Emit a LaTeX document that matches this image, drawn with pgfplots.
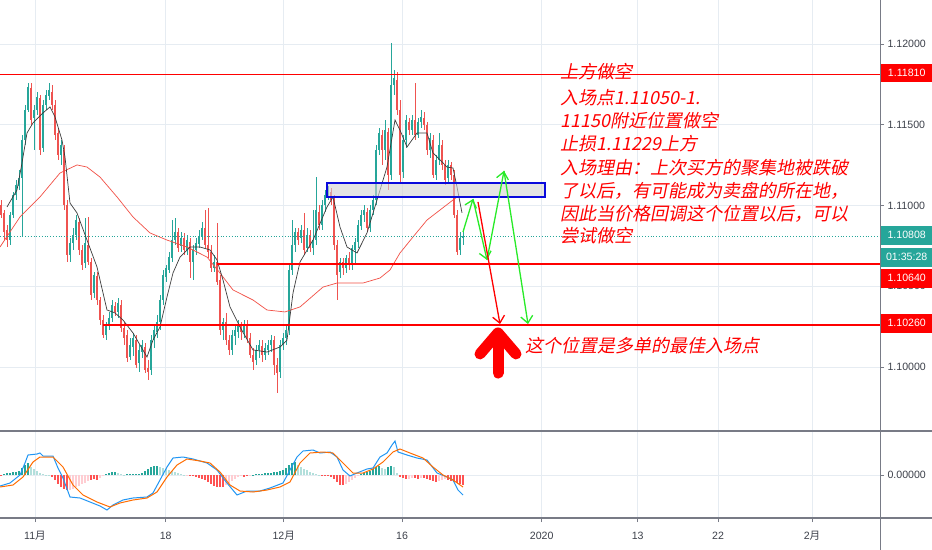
\documentclass[border=0pt]{standalone}
\usepackage{fontspec}
\setmainfont{Liberation Sans}
\newfontfamily\cjk{Noto Sans CJK SC}
\newfontfamily\cjki[FakeSlant=0.2]{Noto Sans CJK SC}
\usepackage{pgfplots}
\usepackage{pgfplotstable}
\pgfplotsset{compat=1.18}
\usetikzlibrary{arrows.meta}

\definecolor{cgreen}{RGB}{38,166,154}
\definecolor{cred}{RGB}{239,83,80}
\definecolor{gridc}{RGB}{230,236,242}
\definecolor{axgray}{RGB}{120,123,134}
\definecolor{txtgray}{RGB}{60,64,74}
\definecolor{hline}{RGB}{255,0,0}
\definecolor{maslow}{RGB}{242,80,70}
\definecolor{mafast}{RGB}{60,60,60}
\definecolor{agreen}{RGB}{40,235,40}
\definecolor{boxblue}{RGB}{10,10,220}
\definecolor{macdblue}{RGB}{33,150,243}
\definecolor{macdorange}{RGB}{255,109,0}
\definecolor{hdg}{RGB}{38,166,154}
\definecolor{hlg}{RGB}{178,223,219}
\definecolor{hred}{RGB}{255,82,82}
\definecolor{hpink}{RGB}{255,205,210}

\newcommand\lab{\fontsize{10.6bp}{12bp}\selectfont}
\newcommand\ann{\fontsize{18bp}{22bp}\selectfont\cjki}

\pgfplotsset{
  candle/.style={only marks, mark=*, mark size=0pt,
    mark options={draw=none, fill=none}, forget plot,
    error bars/.cd, y dir=both, y explicit, error mark=none,
    error bar style={#1}},
}

% up candles: x open high low close
\pgfplotstableread{
x o h l c
10 1.10786 1.10960 1.10755 1.10941
13 1.10941 1.11084 1.10923 1.11065
16 1.11065 1.11158 1.11034 1.11127
19 1.11121 1.11220 1.11096 1.11170
22 1.11170 1.11436 1.10805 1.11405
25 1.11405 1.11622 1.11374 1.11591
28 1.11591 1.11758 1.11579 1.11733
34 1.11542 1.11622 1.11344 1.11591
37 1.11591 1.11703 1.11560 1.11672
43 1.11356 1.11653 1.11331 1.11622
46 1.11622 1.11715 1.11591 1.11684
49 1.11678 1.11758 1.11653 1.11715
61 1.11313 1.11405 1.11251 1.11374
70 1.10694 1.10799 1.10650 1.10768
73 1.10768 1.10861 1.10725 1.10817
76 1.10817 1.10941 1.10786 1.10910
85 1.10644 1.10923 1.10613 1.10768
94 1.10458 1.10588 1.10427 1.10570
106 1.10198 1.10279 1.10167 1.10260
109 1.10254 1.10341 1.10229 1.10304
112 1.10304 1.10415 1.10279 1.10384
118 1.10341 1.10427 1.10304 1.10396
130 1.10062 1.10180 1.10044 1.10136
133 1.10124 1.10211 1.10068 1.10180
139 1.10025 1.10136 1.09969 1.10106
142 1.10093 1.10167 1.10056 1.10136
151 1.09982 1.10198 1.09951 1.10167
154 1.10167 1.10260 1.10118 1.10229
157 1.10217 1.10322 1.10180 1.10279
160 1.10279 1.10446 1.10229 1.10415
163 1.10415 1.10601 1.10384 1.10570
166 1.10557 1.10632 1.10526 1.10613
169 1.10601 1.10712 1.10582 1.10681
172 1.10675 1.10910 1.10650 1.10786
175 1.10786 1.10923 1.10755 1.10836
181 1.10749 1.10836 1.10712 1.10799
187 1.10725 1.10817 1.10694 1.10786
193 1.10650 1.10755 1.10539 1.10725
196 1.10725 1.10799 1.10694 1.10768
199 1.10762 1.10848 1.10737 1.10811
202 1.10811 1.10898 1.10786 1.10861
214 1.10613 1.10694 1.10588 1.10650
223 1.10229 1.10304 1.10167 1.10279
232 1.10106 1.10229 1.10075 1.10198
235 1.10192 1.10260 1.10136 1.10229
238 1.10217 1.10291 1.10180 1.10260
244 1.10217 1.10291 1.10180 1.10260
256 1.10044 1.10136 1.10013 1.10106
259 1.10106 1.10167 1.10056 1.10136
265 1.10075 1.10149 1.10044 1.10118
268 1.10106 1.10167 1.10075 1.10136
271 1.10136 1.10198 1.10093 1.10167
280 1.09969 1.10167 1.09932 1.10136
283 1.10136 1.10211 1.10106 1.10180
286 1.10180 1.10260 1.10136 1.10229
289 1.10229 1.10632 1.10198 1.10601
292 1.10601 1.10910 1.10570 1.10755
295 1.10755 1.10861 1.10712 1.10836
301 1.10799 1.10879 1.10768 1.10848
307 1.10737 1.10861 1.10712 1.10817
313 1.10737 1.10972 1.10694 1.10786
316 1.10786 1.11176 1.10755 1.10972
322 1.10879 1.11034 1.10848 1.11003
325 1.11003 1.11096 1.10960 1.11065
328 1.11059 1.11121 1.11034 1.11084
340 1.10588 1.10675 1.10551 1.10650
346 1.10613 1.10694 1.10582 1.10675
352 1.10632 1.10755 1.10601 1.10737
355 1.10725 1.10799 1.10632 1.10774
358 1.10774 1.10910 1.10737 1.10879
361 1.10873 1.10972 1.10848 1.10941
364 1.10941 1.11003 1.10898 1.10972
370 1.10861 1.11003 1.10836 1.10972
373 1.10972 1.11065 1.10941 1.11034
376 1.11034 1.11374 1.11003 1.11344
379 1.11344 1.11480 1.11313 1.11449
385 1.11344 1.11529 1.11282 1.11467
391 1.11189 1.12006 1.11158 1.11746
394 1.11746 1.11839 1.11684 1.11789
403 1.11207 1.11436 1.11170 1.11405
406 1.11405 1.11560 1.11356 1.11529
412 1.11467 1.11560 1.11436 1.11529
418 1.11436 1.11542 1.11418 1.11517
421 1.11517 1.11591 1.11480 1.11548
430 1.11344 1.11449 1.11294 1.11418
436 1.11189 1.11313 1.11158 1.11282
439 1.11282 1.11449 1.11251 1.11374
448 1.11170 1.11282 1.11145 1.11251
460 1.10725 1.10836 1.10694 1.10799
463 1.10799 1.10848 1.10755 1.10811
}\upc

% down candles
\pgfplotstableread{
x o h l c
1 1.11003 1.11034 1.10923 1.10941
4 1.10954 1.10972 1.10786 1.10836
7 1.10848 1.10879 1.10743 1.10786
31 1.11727 1.11758 1.11498 1.11529
40 1.11665 1.11684 1.11313 1.11344
52 1.11703 1.11746 1.11591 1.11622
55 1.11622 1.11653 1.11405 1.11436
58 1.11449 1.11480 1.11282 1.11313
64 1.11344 1.11374 1.10972 1.11003
67 1.11003 1.11034 1.10650 1.10694
79 1.10898 1.10923 1.10694 1.10725
82 1.10725 1.10755 1.10601 1.10632
88 1.10755 1.10929 1.10632 1.10650
91 1.10650 1.10675 1.10415 1.10446
97 1.10564 1.10588 1.10384 1.10415
100 1.10415 1.10434 1.10260 1.10291
103 1.10291 1.10322 1.10180 1.10198
115 1.10378 1.10403 1.10316 1.10341
121 1.10384 1.10415 1.10217 1.10242
124 1.10242 1.10279 1.10136 1.10180
127 1.10198 1.10229 1.10031 1.10056
136 1.10167 1.10198 1.09994 1.10013
145 1.10124 1.10149 1.09963 1.09982
148 1.09994 1.10044 1.09920 1.09969
178 1.10836 1.10861 1.10712 1.10737
184 1.10799 1.10830 1.10694 1.10725
190 1.10774 1.10799 1.10551 1.10650
205 1.10861 1.10972 1.10737 1.10755
208 1.10755 1.10985 1.10675 1.10712
211 1.10712 1.10755 1.10588 1.10613
217 1.10650 1.10892 1.10508 1.10526
220 1.10539 1.10570 1.10198 1.10229
226 1.10279 1.10335 1.10136 1.10167
229 1.10167 1.10198 1.10075 1.10106
241 1.10254 1.10279 1.10167 1.10217
247 1.10260 1.10291 1.10149 1.10180
250 1.10180 1.10211 1.10056 1.10075
253 1.10075 1.10118 1.09982 1.10031
262 1.10130 1.10167 1.10031 1.10075
274 1.10167 1.10192 1.09951 1.10013
277 1.10013 1.10056 1.09839 1.09963
298 1.10836 1.10861 1.10755 1.10786
304 1.10848 1.10954 1.10694 1.10725
310 1.10817 1.10848 1.10712 1.10737
319 1.10960 1.11003 1.10848 1.10879
331 1.11084 1.11108 1.11003 1.11034
334 1.11034 1.11065 1.10725 1.10755
337 1.10755 1.10786 1.10415 1.10570
343 1.10650 1.10675 1.10570 1.10613
349 1.10675 1.10712 1.10601 1.10632
367 1.10960 1.10985 1.10836 1.10861
382 1.11436 1.11467 1.11251 1.11344
388 1.11455 1.11480 1.11096 1.11189
397 1.11777 1.11826 1.11560 1.11591
400 1.11591 1.11653 1.11145 1.11189
409 1.11517 1.11542 1.11436 1.11467
415 1.11529 1.11758 1.11405 1.11436
424 1.11542 1.11579 1.11467 1.11498
427 1.11498 1.11517 1.11313 1.11344
433 1.11405 1.11436 1.11170 1.11189
442 1.11374 1.11405 1.11220 1.11251
445 1.11251 1.11282 1.11127 1.11158
451 1.11251 1.11269 1.11158 1.11189
454 1.11189 1.11220 1.10923 1.10941
457 1.10941 1.10972 1.10694 1.10712
}\dnc

\begin{document}
\begin{tikzpicture}
\useasboundingbox (0,0) rectangle (932bp,-550bp);
\fill[white] (0,0) rectangle (932bp,-550bp);

% ---------------- price panel ----------------
\begin{axis}[
  at={(0bp,0bp)}, anchor=north west,
  scale only axis, width=880bp, height=431bp,
  xmin=0, xmax=880, ymin=1.09604, ymax=1.12272,
  clip=false,
  axis line style={draw=none},
  xtick={35,165.7,283.7,402,541.7,637.7,718,812},
  xticklabels={}, xtick style={/pgfplots/major tick length=0pt},
  ytick={1.100,1.105,1.110,1.115,1.120},
  ytick pos=right, yticklabel pos=right,
  tick align=outside, major tick length=4bp,
  ytick style={axgray, line width=0.8bp},
  scaled y ticks=false,
  /pgf/number format/assume math mode=true,
  yticklabel={\pgfmathprintnumber[fixed,fixed zerofill,precision=5]{\tick}},
  yticklabel style={font=\lab, text=txtgray},
  grid=major, major grid style={gridc, line width=0.8bp},
]
% wicks
\addplot[candle={cgreen, line width=0.8bp}]
  table[x=x, y expr={(\thisrow{h}+\thisrow{l})/2}, y error expr={(\thisrow{h}-\thisrow{l})/2}] {\upc};
\addplot[candle={cred, line width=0.8bp}]
  table[x=x, y expr={(\thisrow{h}+\thisrow{l})/2}, y error expr={(\thisrow{h}-\thisrow{l})/2}] {\dnc};
% bodies
\addplot[candle={cgreen, line width=2.2bp}]
  table[x=x, y expr={(\thisrow{o}+\thisrow{c})/2}, y error expr={abs(\thisrow{c}-\thisrow{o})/2}] {\upc};
\addplot[candle={cred, line width=2.2bp}]
  table[x=x, y expr={(\thisrow{o}+\thisrow{c})/2}, y error expr={abs(\thisrow{c}-\thisrow{o})/2}] {\dnc};

% slow moving average
\addplot[maslow, line width=0.7bp, forget plot] coordinates {
(0,1.10743) (20,1.10929) (40,1.11053) (60,1.11201) (77,1.11251) (87,1.11238)
(100,1.11176) (117,1.11053) (133,1.10929) (150,1.10830) (167,1.10786) (187,1.10743)
(207,1.10681) (220,1.10582) (233,1.10477) (253,1.10415) (267,1.10353) (285,1.10341)
(300,1.10372) (323,1.10495) (337,1.10520) (363,1.10520) (380,1.10551) (390,1.10601)
(400,1.10706) (413,1.10805) (427,1.10910) (440,1.10972) (453,1.11034) (457,1.11053)};
% fast moving average
\addplot[mafast, line width=0.7bp, forget plot] coordinates {
(7,1.10991) (17,1.11096) (22,1.11263) (27,1.11449) (33,1.11511) (43,1.11573)
(50,1.11610) (55,1.11548) (62,1.11405) (65,1.11300) (70,1.11015) (77,1.10954)
(87,1.10786) (97,1.10619) (107,1.10353) (115,1.10335) (123,1.10291) (133,1.10211)
(147,1.10062) (153,1.10167) (160,1.10248) (167,1.10434) (173,1.10582) (180,1.10681)
(190,1.10743) (200,1.10743) (210,1.10725) (217,1.10663) (223,1.10539) (230,1.10372)
(240,1.10248) (253,1.10106) (267,1.10093) (280,1.10124) (287,1.10167) (293,1.10458)
(300,1.10650) (313,1.10786) (327,1.10991) (333,1.11053) (340,1.10867) (347,1.10743)
(357,1.10706) (367,1.10830) (377,1.11034) (387,1.11238) (395,1.11529) (400,1.11467)
(407,1.11362) (417,1.11449) (427,1.11449) (433,1.11325) (440,1.11282) (447,1.11238)
(453,1.11232) (457,1.11115) (462,1.10954)};

% current price line and horizontal levels
\addplot[cgreen, dotted, line width=0.8bp, forget plot] coordinates {(0,1.10808) (880,1.10808)};
\addplot[hline, line width=1bp, forget plot] coordinates {(0,1.11810) (880,1.11810)};
\addplot[hline, line width=2bp, forget plot] coordinates {(217,1.10640) (880,1.10640)};
\addplot[hline, line width=2bp, forget plot] coordinates {(103,1.10260) (880,1.10260)};

% zone box
\draw[boxblue, line width=1.5bp, fill=gray!35, fill opacity=0.6]
  (axis cs:327,1.11053) rectangle (axis cs:545,1.11140);

% scenario arrows
\begin{scope}[line width=1.3bp, -{Straight Barb[length=7bp,width=12bp]}]
\draw[agreen] (axis cs:463,1.10836) -- (axis cs:473,1.11040);
\draw[agreen] (axis cs:473,1.11040) -- (axis cs:487,1.10663);
\draw[agreen] (axis cs:487,1.10663) -- (axis cs:504,1.11214);
\draw[agreen] (axis cs:504,1.11214) -- (axis cs:528,1.10266);
\draw[hline] (axis cs:478,1.11022) -- (axis cs:500,1.10266);
\end{scope}
% big up arrow
\draw[hline, line width=11bp, line cap=round, line join=round]
  (axis cs:480,1.10081) -- (axis cs:498,1.10211) -- (axis cs:516,1.10081);
\draw[hline, line width=11bp, line cap=round]
  (axis cs:498,1.10180) -- (axis cs:498,1.09963);
\end{axis}

% ---------------- MACD panel ----------------
\begin{axis}[
  at={(0bp,-431bp)}, anchor=north west,
  scale only axis, width=880bp, height=87bp,
  xmin=0, xmax=880, ymin=-43, ymax=44,
  clip=false,
  axis line style={draw=none},
  xtick={35,165.7,283.7,402,541.7,637.7,718,812},
  xticklabels={}, xtick pos=bottom,
  ytick={0}, yticklabels={0.00000},
  ytick pos=right, yticklabel pos=right,
  tick align=outside, major tick length=4bp,
  tick style={axgray, line width=0.8bp},
  yticklabel style={font=\lab, text=txtgray},
  grid=major, major grid style={gridc, line width=0.8bp},
]
\addplot[ycomb, hdg, line width=2.3bp, forget plot] coordinates {
(4,1) (7,2) (10,2) (13,3) (16,3) (19,4) (22,7) (25,10) (28,12)
(106,1) (109,2) (112,3) (115,3) (127,1) (130,1) (133,1) (136,1) (139,1) (142,2)
(145,4) (148,6) (151,8) (154,9) (157,9)
(253,0.5) (256,1) (259,1) (262,1.5) (265,2) (268,2) (271,2.5) (274,3) (277,3)
(280,4) (283,5) (286,7) (289,10) (292,12) (295,13)
(361,1) (364,2) (367,3) (370,4) (373,6) (376,8) (379,9) (388,8) (391,9)};
\addplot[ycomb, hlg, line width=2.3bp, forget plot] coordinates {
(31,8) (34,6) (37,4) (40,2) (43,1) (46,0.5) (49,0.5) (118,2) (121,1) (124,0.5)
(160,8) (163,7) (166,6) (169,5) (172,4) (175,3) (178,2) (181,1) (184,0.5)
(298,10) (301,8) (304,6) (307,5) (310,3) (313,2) (316,1) (319,0.5)
(382,7) (385,6) (394,8) (397,2)};
\addplot[ycomb, hred, line width=2.3bp, forget plot] coordinates {
(1,-1) (52,-2) (55,-5) (58,-9) (61,-12) (64,-14) (67,-15) (91,-5) (94,-4) (97,-5)
(190,-1) (193,-1) (196,-2) (199,-3) (202,-4) (205,-5) (208,-7) (211,-9) (214,-11)
(217,-12) (220,-12) (223,-12) (244,-1.5) (247,-1)
(322,-0.5) (325,-1) (328,-1) (331,-2) (334,-4) (337,-7) (340,-10) (343,-10)
(400,-2) (403,-3) (406,-4) (415,-3) (418,-4) (424,-3) (427,-4) (430,-5) (433,-6)
(436,-7) (448,-5) (451,-6) (454,-7) (457,-8) (460,-9) (463,-10)};
\addplot[ycomb, hpink, line width=2.3bp, forget plot] coordinates {
(70,-15) (73,-14) (76,-12) (79,-11) (82,-9) (85,-8) (88,-6) (100,-3) (103,-1)
(187,-0.5) (226,-10) (229,-8) (232,-6) (235,-4) (238,-2) (241,-1) (250,-0.5)
(346,-9) (349,-7) (352,-5) (355,-3) (358,-1)
(409,-4) (412,-3) (421,-3) (439,-6) (442,-5) (445,-4)};
% MACD line
\addplot[macdblue, line width=1bp, forget plot] coordinates {
(0,-11) (10,-8) (20,0) (25,12) (28,20) (37,21) (40,22) (43,19) (53,19) (58,7)
(63,-3) (70,-22) (80,-23) (90,-27) (100,-31) (107,-35) (113,-30) (123,-25)
(133,-23) (147,-22) (153,-18) (160,-5) (167,8) (173,17) (183,18) (193,16)
(207,12) (217,5) (227,-8) (237,-20) (247,-16) (260,-16) (270,-13) (283,-8)
(290,5) (297,18) (303,24) (313,25) (320,22) (330,23) (337,18) (343,5) (350,-1)
(357,2) (367,6) (373,7) (380,18) (387,22) (392,30) (395,34) (398,23) (407,20)
(417,17) (427,15) (437,2) (447,-2) (453,-5) (458,-15) (463,-20)};
% signal line
\addplot[macdorange, line width=1bp, forget plot] coordinates {
(0,-12) (13,-10) (23,-2) (33,13) (40,18) (53,18) (63,8) (73,-10) (83,-20)
(97,-27) (110,-32) (120,-28) (133,-25) (147,-23) (157,-17) (167,-2) (177,10)
(187,16) (200,14) (210,12) (220,3) (230,-10) (240,-16) (253,-17) (267,-15)
(280,-12) (290,-7) (300,12) (310,22) (323,23) (333,22) (343,12) (353,2)
(363,2) (373,6) (383,13) (393,23) (400,26) (410,22) (423,17) (433,8) (443,0)
(453,-5) (463,-12)};
\end{axis}

% panel frame lines
\draw[axgray, line width=1.3bp] (0,-431bp) -- (932bp,-431bp);
\draw[axgray, line width=1.3bp] (0,-518bp) -- (932bp,-518bp);
\draw[axgray, line width=1bp] (880bp,0) -- (880bp,-550bp);

% time labels
\begin{scope}[font=\lab, text=txtgray]
\node at (35bp,-536bp) {11{\cjk 月}};
\node at (165.7bp,-536bp) {18};
\node at (283.7bp,-536bp) {12{\cjk 月}};
\node at (402bp,-536bp) {16};
\node at (541.7bp,-536bp) {2020};
\node at (637.7bp,-536bp) {13};
\node at (718bp,-536bp) {22};
\node at (812bp,-536bp) {2{\cjk 月}};
\end{scope}

% price tags on the scale
\begin{scope}[font=\lab, text=white, inner sep=0pt, minimum width=52bp, anchor=west]
\node[fill=hline, minimum height=18bp] at (880.5bp,-73bp) {1.11810};
\node[fill=cgreen, minimum height=19bp] at (880.5bp,-235bp) {1.10808};
\node[fill=cgreen, minimum height=19bp] at (880.5bp,-257bp) {01:35:28};
\node[fill=hline, minimum height=19bp] at (880.5bp,-278bp) {1.10640};
\node[fill=hline, minimum height=19bp] at (880.5bp,-323bp) {1.10260};
\end{scope}

% annotations
\begin{scope}[text=hline, font=\ann, inner sep=0pt, anchor=base west]
\node at (560bp,-78bp) {上方做空};
\node at (560bp,-104bp) {入场点1.11050-1.};
\node at (560bp,-127bp) {11150附近位置做空};
\node at (560bp,-150bp) {止损1.11229上方};
\node at (560bp,-174bp) {入场理由：上次买方的聚集地被跌破};
\node at (560bp,-197bp) {了以后，有可能成为卖盘的所在地，};
\node at (560bp,-220bp) {因此当价格回调这个位置以后，可以};
\node at (560bp,-242bp) {尝试做空};
\node at (525bp,-352bp) {这个位置是多单的最佳入场点};
\end{scope}
\end{tikzpicture}
\end{document}
